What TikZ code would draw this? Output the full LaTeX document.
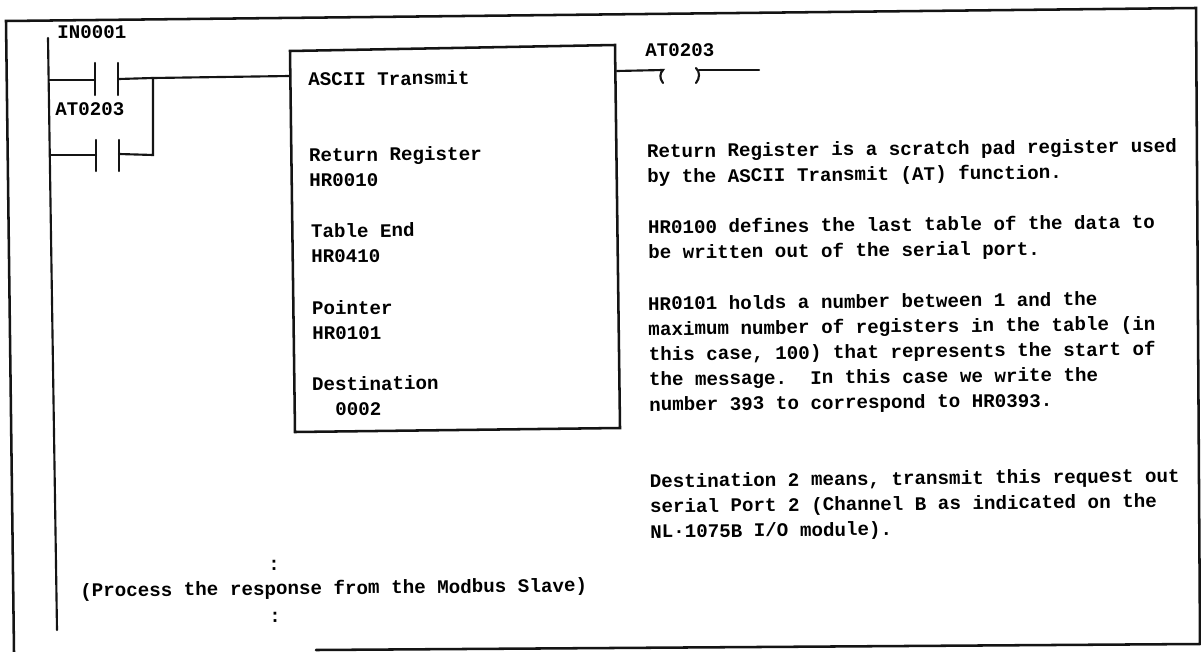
\documentclass[tikz,border=0pt]{standalone}
\usepackage{fontspec}
\setmonofont{Liberation Mono}
\tikzset{
  x=0.75pt,y=-0.75pt,
  ink/.style={draw=black!92,line width=1.9pt,line cap=round,line join=miter},
  thinink/.style={draw=black!92,line width=1.6pt,line cap=round},
  txt/.style={inner sep=0pt,anchor=base west,align=left,rotate=0.6,
     font=\ttfamily\bfseries\fontsize{14.4pt}{18.9pt}\selectfont},
}
\begin{document}
\begin{tikzpicture}
\useasboundingbox (0,0) rectangle (1201,652);
\fill[white] (0,0) rectangle (1201,652);
% frame
\coordinate (ftl) at (6,21); \coordinate (ftr) at (1196,8);
\coordinate (fbr) at (1200,644); \coordinate (fbs) at (316,650); \coordinate (fbl) at (14,652);
\draw[ink] (fbl) -- (ftl) -- (ftr) -- (fbr);
\draw[ink] (fbr) -- (fbs);
% rail
\coordinate (r0) at (48,38); \coordinate (r1) at (49,80); \coordinate (r2) at (50,155); \coordinate (r3) at (57,630);
\draw[thinink] (r0) -- (r3);
% function box
\coordinate (btl) at (290,51); \coordinate (btr) at (615,45); \coordinate (bbr) at (620,428); \coordinate (bbl) at (295,432);
\draw[ink] (btl) -- (btr) -- (bbr) -- (bbl) -- cycle;
% contacts
\coordinate (c1a) at (95,80); \coordinate (c1b) at (119,79);
\coordinate (c2a) at (96,155); \coordinate (c2b) at (119,154);
\draw[thinink] (95,63) -- (95,95); \draw[thinink] (118,63) -- (118,95);
\draw[thinink] (96,140) -- (96,171); \draw[thinink] (119,140) -- (119,171);
\coordinate (j) at (153,78); \coordinate (j2) at (153,155);
\coordinate (bin) at (290,76);
\draw[thinink] (r1) -- (c1a);
\draw[thinink] (c1b) -- (j) -- (bin);
\draw[thinink] (r2) -- (c2a);
\draw[thinink] (c2b) -- (j2) -- (j);
% coil
\coordinate (bout) at (617,71); \coordinate (cl) at (663,70); \coordinate (cr) at (699,70); \coordinate (cend) at (759,70);
\draw[thinink] (bout) -- (cl) .. controls (660,73) and (659,78) .. (663,83);
\draw[thinink] (cend) -- (cr);
\draw[thinink] (696,68) .. controls (700,72) and (700,78) .. (696,83);
% labels
\node[txt] (in1) at (57,39) {IN0001};
\node[txt] (at1) at (55,116) {AT0203};
\node[txt] (at2) at (645,57) {AT0203};
\node[txt] (b0) at (308,86) {ASCII Transmit};
\node[txt] (b1) at (309,187) {Return Register\\HR0010};
\node[txt] (b2) at (311,263) {Table End\\HR0410};
\node[txt] (b3) at (312,340) {Pointer\\HR0101};
\node[txt] (b4) at (312,416) {Destination\\\ \ 0002};
\node[txt] (t1) at (647,183) {Return Register is a scratch pad register used\\by the ASCII Transmit (AT) function.};
\node[txt] (t2) at (648,259) {HR0100 defines the last table of the data to\\be written out of the serial port.};
\node[txt] (t3) at (649,411) {HR0101 holds a number between 1 and the\\maximum number of registers in the table (in\\this case, 100) that represents the start of\\the message.\ \ In this case we write the\\number 393 to correspond to HR0393.};
\node[txt] (t4) at (650,538) {Destination 2 means, transmit this request out\\serial Port 2 (Channel B as indicated on the\\NL·1075B I/O module).};
\node[txt] (p0) at (268,570) {:};
\node[txt] (p1) at (80,597) {(Process the response from the Modbus Slave)};
\node[txt] (p2) at (269,622) {:};
\end{tikzpicture}
\end{document}
